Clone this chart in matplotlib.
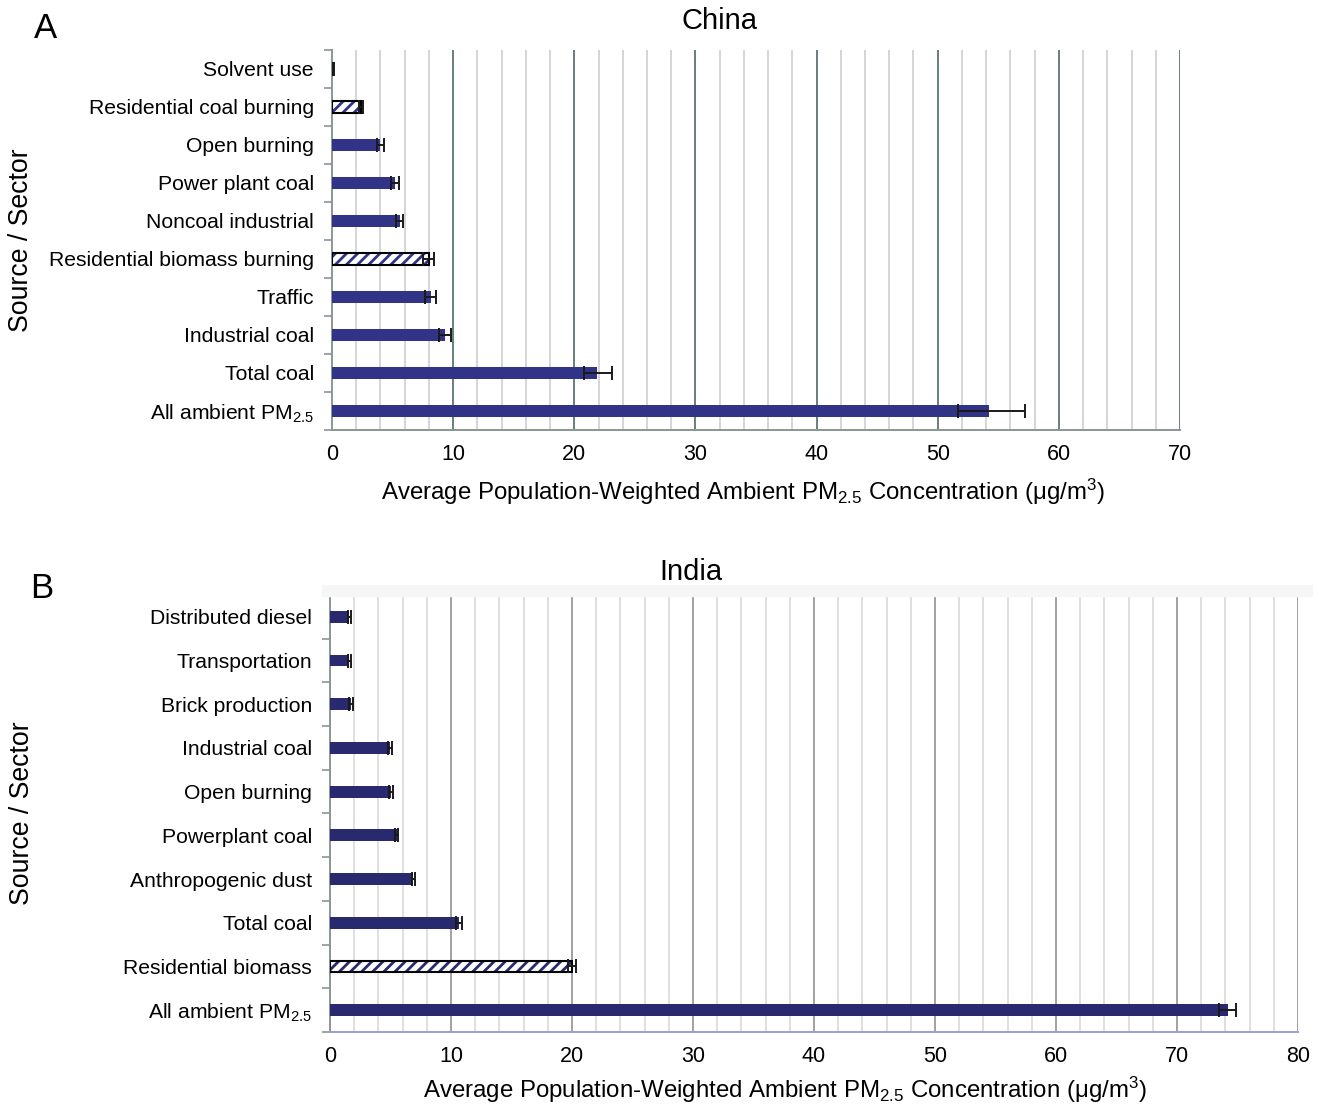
import numpy as np
import matplotlib.pyplot as plt
from matplotlib.patches import Rectangle

plt.rcParams['font.family'] = ['Liberation Sans', 'DejaVu Sans']
plt.rcParams['mathtext.default'] = 'regular'
plt.rcParams['hatch.linewidth'] = 2.0

# Panel A - China (top to bottom)
china_labels = ['Solvent use', 'Residential coal burning', 'Open burning', 'Power plant coal',
                'Noncoal industrial', 'Residential biomass burning', 'Traffic', 'Industrial coal',
                'Total coal', 'All ambient PM$_{2.5}$']
china_values = [0.15, 2.4, 4.0, 5.2, 5.6, 8.0, 8.15, 9.35, 21.9, 54.2]
china_err_lo = [0.05, 0.15, 0.3, 0.35, 0.3, 0.45, 0.45, 0.5, 1.1, 2.5]
china_err_hi = [0.05, 0.15, 0.3, 0.35, 0.3, 0.45, 0.45, 0.5, 1.2, 3.0]
china_hatched = [False, True, False, False, False, True, False, False, False, False]

# Panel B - India (top to bottom)
india_labels = ['Distributed diesel', 'Transportation', 'Brick production', 'Industrial coal',
                'Open burning', 'Powerplant coal', 'Anthropogenic dust', 'Total coal',
                'Residential biomass', 'All ambient PM$_{2.5}$']
india_values = [1.6, 1.6, 1.75, 4.95, 5.05, 5.5, 6.9, 10.7, 20.0, 74.2]
india_err = [0.1, 0.1, 0.15, 0.15, 0.15, 0.1, 0.15, 0.25, 0.3, 0.7]
india_hatched = [False, False, False, False, False, False, False, False, True, False]

xlabel = 'Average Population-Weighted Ambient PM$_{2.5}$ Concentration (μg/m$^3$)'


def draw_panel(ax, labels, values, err_lo, err_hi, hatched, xmax, bar_color,
               major_grid, minor_grid, bottom_color, height):
    y = np.arange(len(labels))
    for i in range(len(labels)):
        if hatched[i]:
            ax.barh(y[i], values[i], height=height, color='white', edgecolor=bar_color,
                    hatch='///', linewidth=0, zorder=3)
            ax.barh(y[i], values[i], height=height, fill=False, edgecolor='black',
                    linewidth=1.5, zorder=4)
        else:
            ax.barh(y[i], values[i], height=height, color=bar_color, linewidth=0, zorder=3)
    ax.errorbar(values, y, xerr=[err_lo, err_hi], fmt='none', ecolor='#1a1a1a',
                elinewidth=1.4, capsize=5, capthick=1.4, zorder=5)

    # vertical grid lines
    for gx in np.arange(2, xmax + 1, 2):
        if gx % 10 == 0:
            ax.axvline(gx, color=major_grid, linewidth=1.3, zorder=1)
        else:
            ax.axvline(gx, color=minor_grid, linewidth=1.1, zorder=1)

    ax.set_xlim(0, xmax)
    ax.set_ylim(len(labels) - 0.5, -0.5)
    ax.set_xticks(np.arange(0, xmax + 1, 10))
    ax.set_yticks(y)
    ax.set_yticklabels(labels, fontsize=15.2)
    ax.set_yticks(np.arange(-0.5, len(labels), 1), minor=True)
    ax.tick_params(axis='y', which='major', length=0, pad=13)
    ax.tick_params(axis='y', which='minor', length=6, color='#8a9696', width=1.2)
    ax.tick_params(axis='x', length=0, labelsize=15.5, pad=10)
    for s in ['top', 'right']:
        ax.spines[s].set_visible(False)
    ax.spines['left'].set_color('#8a9696')
    ax.spines['left'].set_linewidth(1.4)
    ax.spines['bottom'].set_color(bottom_color)
    ax.spines['bottom'].set_linewidth(1.4)
    ax.set_xlabel(xlabel, fontsize=17.3)
    ax.set_ylabel('Source / Sector', fontsize=19.2)


fig = plt.figure(figsize=(13.19, 11.07), dpi=100)

ax1 = fig.add_axes([332 / 1319, 1 - 430 / 1107, 848 / 1319, 380 / 1107])
draw_panel(ax1, china_labels, china_values, china_err_lo, china_err_hi, china_hatched, 70,
           '#313386', '#5f7373', '#c9cccc', '#8a9696', 0.3)
ax1.set_title('China', fontsize=21, x=0.4575, pad=15)
ax1.yaxis.set_label_coords(-0.352, 0.5)
ax1.xaxis.set_label_coords(0.4847, -0.122)

# light band above the India panel
fig.patches.append(Rectangle((322 / 1319, 1 - 596 / 1107), 990 / 1319, 11 / 1107,
                             transform=fig.transFigure, color='#f6f6f6', zorder=0))
ax2 = fig.add_axes([330 / 1319, 1 - 1032 / 1107, 968 / 1319, 437 / 1107])
draw_panel(ax2, india_labels, india_values, india_err, india_err, india_hatched, 80,
           '#29296f', '#9a9a9a', '#d6d6d6', '#9c9cd8', 0.27)
ax2.set_title('India', fontsize=21, x=0.373, pad=11)
ax2.yaxis.set_label_coords(-0.305, 0.5)
ax2.xaxis.set_label_coords(0.470, -0.098)

fig.text(34 / 1319, 1 - 28 / 1107, 'A', fontsize=25, va='center', ha='left')
fig.text(30 / 1319, 1 - 588 / 1107, 'B', fontsize=25, va='center', ha='left')

fig.savefig('out.png', dpi=100)
